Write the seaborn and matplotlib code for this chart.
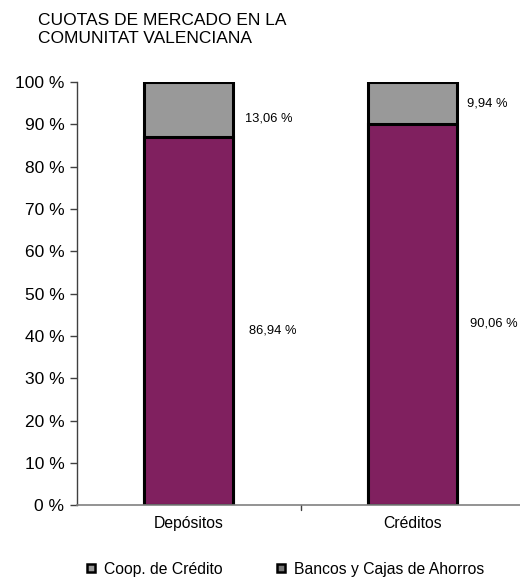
import pandas as pd
import numpy as np
import matplotlib
matplotlib.use('Agg')
import matplotlib.pyplot as plt
import seaborn as sns
from matplotlib.lines import Line2D

categorias = ['Depósitos', 'Créditos']
bancos = [86.94, 90.06]
coop = [13.06, 9.94]
etiquetas_bancos = ['86,94 %', '90,06 %']
etiquetas_coop = ['13,06 %', '9,94 %']
yticks = [0, 10, 20, 30, 40, 50, 60, 70, 80, 90, 100]

sns.set_theme(style='white', rc={'text.color': 'black', 'xtick.color': 'black',
                                 'ytick.color': 'black', 'axes.labelcolor': 'black'})
plt.rcParams['font.family'] = ['Liberation Sans', 'DejaVu Sans']

df = pd.DataFrame({'cat': categorias, 'bancos': bancos, 'coop': coop})
df['total'] = df['bancos'] + df['coop']

fig = plt.figure(figsize=(5.2, 5.78), dpi=100)
ax = fig.add_axes([0.148, 0.126, 0.86, 0.732])

# gray on top (total), purple underneath
sns.barplot(data=df, x='cat', y='total', color='#999999', edgecolor='black',
            linewidth=2.2, width=0.40, saturation=1, ax=ax)
sns.barplot(data=df, x='cat', y='bancos', color='#80205F', edgecolor='black',
            linewidth=2.2, width=0.40, saturation=1, ax=ax)

ax.set_xlim(-0.5, 1.5)
ax.set_ylim(0, 100)
ax.set_yticks(yticks)
ax.set_yticklabels([f'{v} %' for v in yticks], fontsize=12.5)
ax.set_xlabel('')
ax.set_ylabel('')
ax.tick_params(axis='x', length=0, labelsize=11.3, pad=8)
ax.tick_params(axis='y', left=True, length=5, width=1, color='#404040', pad=4)
for x in [0.5]:
    ax.plot([x, x], [0, -1.2], color='#404040', lw=1, clip_on=False)

for s in ['top', 'right']:
    ax.spines[s].set_visible(False)
ax.spines['left'].set_color('#404040')
ax.spines['bottom'].set_color('#808080')
ax.spines['left'].set_linewidth(1)
ax.spines['bottom'].set_linewidth(1.2)

# value labels
pos_bancos = [(0.27, 41.4), (1.26, 43.0)]
pos_coop = [(0.25, 91.5), (1.245, 95.0)]
for (x, y), t in zip(pos_bancos, etiquetas_bancos):
    ax.text(x, y, t, fontsize=9.3, va='center', ha='left', color='black')
for (x, y), t in zip(pos_coop, etiquetas_coop):
    ax.text(x, y, t, fontsize=9.3, va='center', ha='left', color='black')

fig.text(0.073, 0.978, 'CUOTAS DE MERCADO EN LA\nCOMUNITAT VALENCIANA',
         fontsize=12.5, ha='left', va='top', linespacing=1.25)

handles = [Line2D([], [], marker='s', ls='', markersize=5.5, markerfacecolor='#999999',
                  markeredgecolor='black', markeredgewidth=1.8),
           Line2D([], [], marker='s', ls='', markersize=5.5, markerfacecolor='#777777',
                  markeredgecolor='black', markeredgewidth=1.8)]
fig.legend(handles, ['Coop. de Crédito', 'Bancos y Cajas de Ahorros'],
           loc='center', bbox_to_anchor=(0.545, 0.015), ncol=2, frameon=False,
           fontsize=11.3, handletextpad=0.35, columnspacing=3.2, handlelength=1)

fig.savefig('out.png', dpi=100)
